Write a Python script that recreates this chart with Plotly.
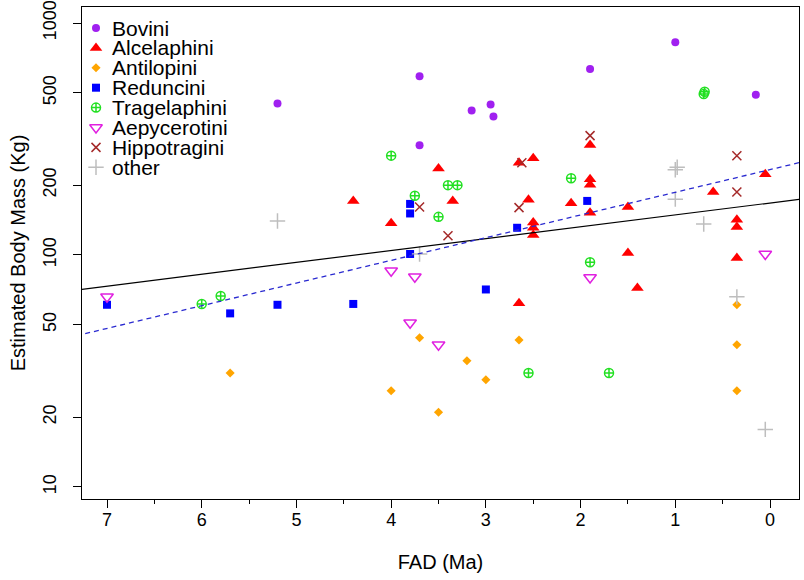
import plotly.graph_objects as go

# ---------------- data (FAD in Ma, estimated body mass in kg) ----------------
tribes = ["Bovini", "Alcelaphini", "Antilopini", "Reduncini",
          "Tragelaphini", "Aepycerotini", "Hippotragini", "other"]

bovini_fad = [5.2, 3.7, 3.7, 3.15, 2.95, 2.92, 1.9, 1.0, 0.15]
bovini_mass = [450, 590, 297, 420, 445, 395, 634, 826, 491]

alcelaphini_fad = [4.4, 4.0, 3.5, 3.35, 2.65, 2.5, 2.55, 2.5, 2.5, 2.5, 2.65, 2.1,
                   1.9, 1.9, 1.9, 1.9, 1.5, 1.5, 1.4, 0.6, 0.35, 0.35, 0.35, 0.05]
alcelaphini_mass = [171, 137, 236, 171, 250, 261, 173, 138, 131, 122, 62, 167,
                    298, 212, 201, 152, 161, 102, 72, 187, 142, 132, 97, 223]

antilopini_fad = [5.7, 4.0, 3.7, 3.5, 3.2, 3.0, 2.65, 0.35, 0.35, 0.35]
antilopini_mass = [31, 26, 44, 21, 35, 29, 43, 61, 41, 26]

reduncini_fad = [7.0, 5.7, 5.2, 4.4, 3.8, 3.8, 3.8, 3.0, 2.67, 1.93]
reduncini_mass = [61, 56, 61, 61.5, 166, 151, 101, 71, 131, 171]

tragelaphini_fad = [6.0, 5.8, 4.0, 3.75, 3.4, 3.3, 3.5, 2.1, 1.9, 2.55, 1.7, 0.7, 0.69]
tragelaphini_mass = [61.5, 66.5, 268, 180, 200, 200, 146, 214, 93, 31, 31, 494, 505]

aepycerotini_fad = [7.0, 4.0, 3.75, 3.8, 3.5, 1.9, 0.05]
aepycerotini_mass = [66, 85.5, 80.5, 51, 41, 80, 101]

hippotragini_fad = [3.7, 3.4, 2.65, 2.62, 1.9, 0.35, 0.35]
hippotragini_mass = [161, 121, 160, 250, 327, 268, 187]

other_fad = [5.2, 3.7, 1.0, 0.98, 1.0, 0.7, 0.35, 0.05]
other_mass = [140, 101, 233, 239, 174, 136, 66, 17.7]

# regression lines: log10(mass) = intercept + slope * FAD
solid_intercept, solid_slope = 2.224, -0.0512
dashed_intercept, dashed_slope = 2.368, -0.0978

x_ticks = [7, 6, 5, 4, 3, 2, 1, 0]
y_ticks = [10, 20, 50, 100, 200, 500, 1000]
y_ticktext = ["10", "20", "50", "100", "200", "500", "1000"]

x_title = "FAD (Ma)"
y_title = "Estimated Body Mass (Kg)"

# ---------------- styles ----------------
styles = {
    "Bovini":       dict(symbol="circle", color="#A020F0", size=8, lw=0),
    "Alcelaphini":  dict(symbol="triangle-up", color="#FF0000", size=11, lw=0),
    "Antilopini":   dict(symbol="diamond", color="#FFA500", size=7, lw=0),
    "Reduncini":    dict(symbol="square", color="#0000FF", size=8, lw=0),
    "Tragelaphini": dict(symbol="circle-cross-open", color="#22E022", size=9, lw=1.5),
    "Aepycerotini": dict(symbol="triangle-down-open", color="#E020E0", size=11, lw=1.5),
    "Hippotragini": dict(symbol="x-thin-open", color="#A52A2A", size=9, lw=1.5),
    "other":        dict(symbol="cross-thin-open", color="#BEBEBE", size=11, lw=1.5),
}

series = {
    "Bovini": (bovini_fad, bovini_mass),
    "Alcelaphini": (alcelaphini_fad, alcelaphini_mass),
    "Antilopini": (antilopini_fad, antilopini_mass),
    "Reduncini": (reduncini_fad, reduncini_mass),
    "Tragelaphini": (tragelaphini_fad, tragelaphini_mass),
    "Aepycerotini": (aepycerotini_fad, aepycerotini_mass),
    "Hippotragini": (hippotragini_fad, hippotragini_mass),
    "other": (other_fad, other_mass),
}

FONT = "Liberation Sans, Arial, Helvetica, sans-serif"

fig = go.Figure()

for name in tribes:
    xs, ys = series[name]
    s = styles[name]
    marker = dict(symbol=s["symbol"], color=s["color"], size=s["size"])
    if s["lw"]:
        marker["line"] = dict(color=s["color"], width=s["lw"])
    else:
        marker["line"] = dict(width=0)
    fig.add_trace(go.Scatter(x=xs, y=ys, mode="markers", name=name,
                             marker=marker, showlegend=False))

# regression lines across the full axis extent
x_line = [7.6, -0.6]
fig.add_trace(go.Scatter(
    x=x_line, y=[10 ** (solid_intercept + solid_slope * v) for v in x_line],
    mode="lines", line=dict(color="black", width=1.2), showlegend=False,
    hoverinfo="skip"))
fig.add_trace(go.Scatter(
    x=x_line, y=[10 ** (dashed_intercept + dashed_slope * v) for v in x_line],
    mode="lines", line=dict(color="#2a2ad0", width=1.3, dash="5px,4px"),
    showlegend=False, hoverinfo="skip"))

# ---------------- legend (R-style, drawn on an overlay axis) ----------------
L, R_, T, B = 82, 5, 7, 81
W, H = 804, 580
pw, ph = W - L - R_, H - T - B
leg_sym_x = (96 - L) / pw
leg_txt_x = (110 - L) / pw
leg_y = [(H - B - (28 + i * 19.9)) / ph for i in range(len(tribes))]

for i, name in enumerate(tribes):
    s = styles[name]
    marker = dict(symbol=s["symbol"], color=s["color"], size=s["size"])
    marker["line"] = dict(color=s["color"], width=s["lw"]) if s["lw"] else dict(width=0)
    fig.add_trace(go.Scatter(x=[leg_sym_x], y=[leg_y[i]], mode="markers",
                             marker=marker, xaxis="x2", yaxis="y2",
                             showlegend=False, hoverinfo="skip"))
    fig.add_annotation(x=leg_txt_x, y=leg_y[i], xref="paper", yref="paper",
                       text=name, showarrow=False, xanchor="left",
                       yanchor="middle", font=dict(size=21, color="black",
                                                   family=FONT))

axis_common = dict(showline=True, linecolor="black", linewidth=1, mirror=True,
                   showgrid=False, zeroline=False, ticks="outside",
                   tickcolor="black", tickwidth=1, ticklen=8,
                   tickfont=dict(size=18, color="black", family=FONT))

fig.update_layout(
    width=W, height=H,
    margin=dict(l=L, r=R_, t=T, b=B, autoexpand=False),
    paper_bgcolor="white", plot_bgcolor="white",
    font=dict(family=FONT, color="black"),
    showlegend=False,
    xaxis=dict(range=[7.264, -0.306], tickvals=x_ticks,
               ticktext=[str(v) for v in x_ticks],
               minor=dict(dtick=0.5, tick0=0, ticks="outside", ticklen=4,
                          tickcolor="black", showgrid=False),
               title=dict(text=x_title, font=dict(size=20, family=FONT),
                          standoff=26),
               ticklabelstandoff=-4,
               **axis_common),
    yaxis=dict(type="log", range=[0.948, 3.069], tickvals=y_ticks,
               ticktext=y_ticktext, tickangle=-90, ticklabelstandoff=10,
               title=dict(text=y_title, font=dict(size=20, family=FONT),
                          standoff=8),
               **axis_common),
    xaxis2=dict(overlaying="x", range=[0, 1], visible=False, fixedrange=True),
    yaxis2=dict(overlaying="y", range=[0, 1], visible=False, fixedrange=True),
)

fig.write_html("out.html",
               config={"displayModeBar": False},
               post_script="document.body.style.margin='0';"
                           "document.body.style.overflow='hidden';")
